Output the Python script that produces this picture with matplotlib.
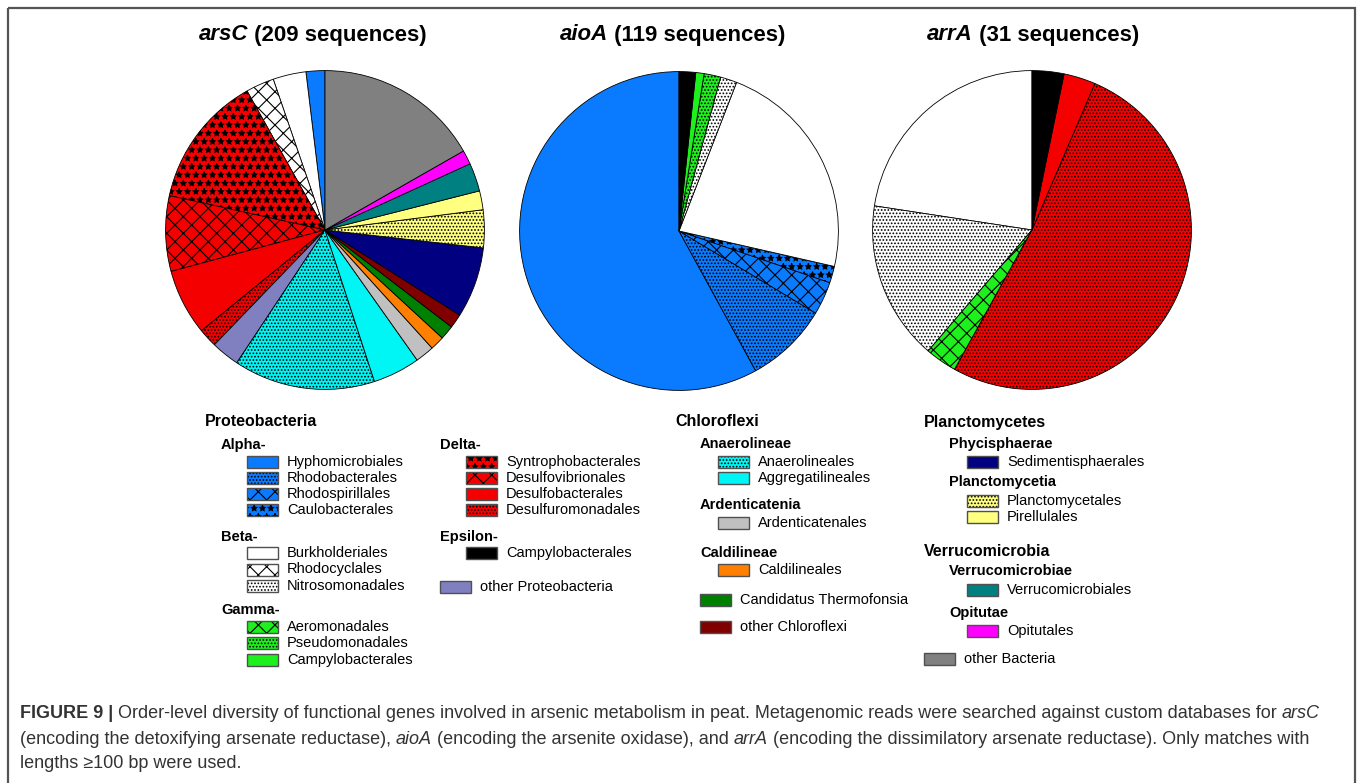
import matplotlib
matplotlib.use('Agg')
import matplotlib.pyplot as plt
from matplotlib.patches import Rectangle

plt.rcParams['font.family'] = ['Liberation Sans', 'DejaVu Sans']
plt.rcParams['hatch.linewidth'] = 0.8

# ─── Data (slices listed counter-clockwise from 12 o'clock) ──────────────
arsC_orders = ['Hyphomicrobiales', 'Burkholderiales', 'Rhodocyclales',
               'Syntrophobacterales', 'Desulfovibrionales', 'Desulfobacterales',
               'Desulfuromonadales', 'other Proteobacteria', 'Anaerolineales',
               'Aggregatilineales', 'Ardenticatenales', 'Caldilineales',
               'Candidatus Thermofonsia', 'other Chloroflexi', 'Sedimentisphaerales',
               'Planctomycetales', 'Pirellulales', 'Verrucomicrobiales',
               'Opitutales', 'other Bacteria']
arsC_counts = [4, 7, 6, 28, 16, 14, 4, 6, 30, 10, 4, 3, 3, 3, 15, 8, 4, 6, 3, 35]

aioA_orders = ['Hyphomicrobiales', 'Rhodobacterales', 'Rhodospirillales',
               'Caulobacterales', 'Burkholderiales', 'Nitrosomonadales',
               'Pseudomonadales', 'Campylobacterales (Gamma)',
               'Campylobacterales (Epsilon)']
aioA_counts = [69, 10, 4, 2, 27, 2, 2, 1, 2]

arrA_orders = ['Burkholderiales', 'Nitrosomonadales', 'Aeromonadales',
               'Desulfuromonadales', 'Desulfobacterales',
               'Campylobacterales (Epsilon)']
arrA_counts = [7, 5, 1, 16, 1, 1]

genes = ['arsC', 'aioA', 'arrA']
totals = [209, 119, 31]

# ─── Styles: face colour + hatch ────────────────────────────────────────
BLUE, RED, GREEN = '#0A7BFF', '#F50000', '#1EF01E'
DOTS, CROSS, DIAM = '.....', 'xx', '**'
STYLE = {
    'Hyphomicrobiales': (BLUE, ''),
    'Rhodobacterales': (BLUE, DOTS),
    'Rhodospirillales': (BLUE, CROSS),
    'Caulobacterales': (BLUE, DIAM),
    'Burkholderiales': ('white', ''),
    'Rhodocyclales': ('white', CROSS),
    'Nitrosomonadales': ('white', DOTS),
    'Aeromonadales': (GREEN, CROSS),
    'Pseudomonadales': (GREEN, DOTS),
    'Campylobacterales (Gamma)': (GREEN, ''),
    'Syntrophobacterales': (RED, DIAM),
    'Desulfovibrionales': (RED, CROSS),
    'Desulfobacterales': (RED, ''),
    'Desulfuromonadales': (RED, DOTS),
    'Campylobacterales (Epsilon)': ('black', ''),
    'other Proteobacteria': ('#8080C0', ''),
    'Anaerolineales': ('#00F5F5', DOTS),
    'Aggregatilineales': ('#00F5F5', ''),
    'Ardenticatenales': ('#C0C0C0', ''),
    'Caldilineales': ('#FF8000', ''),
    'Candidatus Thermofonsia': ('#008000', ''),
    'other Chloroflexi': ('#800000', ''),
    'Sedimentisphaerales': ('#000080', ''),
    'Planctomycetales': ('#FFFF80', DOTS),
    'Pirellulales': ('#FFFF80', ''),
    'Verrucomicrobiales': ('#008080', ''),
    'Opitutales': ('#FF00FF', ''),
    'other Bacteria': ('#808080', ''),
}

W, H = 1358, 783
fig = plt.figure(figsize=(W / 100, H / 100), dpi=100, facecolor='white')

# overlay in pixel coordinates for frame, titles, legend, caption
ov = fig.add_axes([0, 0, 1, 1])
ov.set_xlim(0, W)
ov.set_ylim(H, 0)
ov.axis('off')

ov.add_patch(Rectangle((8, 8), 1347, 800, facecolor='none',
                       edgecolor='#555555', lw=1.6, clip_on=False))

renderer = fig.canvas.get_renderer()


def text_width(s, **kw):
    t1 = ov.text(0, 0, '|' + s + '|', **kw)
    t2 = ov.text(0, 0, '||', **kw)
    w = t1.get_window_extent(renderer).width - t2.get_window_extent(renderer).width
    t1.remove()
    t2.remove()
    return w


def put_runs(x, y, runs, size, color='black', center=False):
    widths = [text_width(s, fontsize=size, fontweight=wt, fontstyle=st)
              for s, wt, st in runs]
    if center:
        x -= sum(widths) / 2
    for (s, wt, st), w in zip(runs, widths):
        ov.text(x, y, s, fontsize=size, fontweight=wt, fontstyle=st,
                color=color, ha='left', va='center')
        x += w


# ─── Pies ───────────────────────────────────────────────────────────────
centers = [(325, 230), (679, 231), (1032, 230)]
R = 161
pie_data = [(arsC_orders, arsC_counts), (aioA_orders, aioA_counts),
            (arrA_orders, arrA_counts)]

for (cx, cy), (orders, counts) in zip(centers, pie_data):
    ax = fig.add_axes([(cx - R) / W, 1 - (cy + R) / H, 2 * R / W, 2 * R / H])
    ax.pie(counts,
           colors=[STYLE[o][0] for o in orders],
           hatch=[STYLE[o][1] for o in orders],
           startangle=90, counterclock=True,
           wedgeprops=dict(edgecolor='black', linewidth=0.6))
    ax.set_xlim(-1.01, 1.01)
    ax.set_ylim(-1.01, 1.01)
    ax.axis('off')

title_x = [313, 673, 1033]
for gene, n, tx in zip(genes, totals, title_x):
    put_runs(tx, 35, [(gene, 'bold', 'italic'),
                      (f' ({n} sequences)', 'bold', 'normal')],
             16, center=True)

# ─── Legend ─────────────────────────────────────────────────────────────
def head(x, y, s, size=11.5):
    ov.text(x, y, s, fontsize=size, fontweight='bold', ha='left', va='center')


def item(x, y, key, label=None, bw=31, bh=12):
    face, hatch = STYLE[key]
    ov.add_patch(Rectangle((x, y - bh / 2), bw, bh, facecolor=face,
                           hatch=hatch, edgecolor='black', lw=0))
    ov.add_patch(Rectangle((x, y - bh / 2), bw, bh, facecolor='none',
                           edgecolor='#505050', lw=1.0))
    ov.text(x + bw + 9, y, label or key, fontsize=10.5, ha='left', va='center')


head(205, 422, 'Proteobacteria')
head(221, 445, 'Alpha-', 10.5)
for i, k in enumerate(['Hyphomicrobiales', 'Rhodobacterales',
                       'Rhodospirillales', 'Caulobacterales']):
    item(247, 462 + 16 * i, k)
head(221, 537, 'Beta-', 10.5)
for i, k in enumerate(['Burkholderiales', 'Rhodocyclales', 'Nitrosomonadales']):
    item(247, 553 + 16.5 * i, k)
head(221, 610, 'Gamma-', 10.5)
for i, k in enumerate(['Aeromonadales', 'Pseudomonadales',
                       'Campylobacterales (Gamma)']):
    item(247, 627 + 16.3 * i, k, k.split(' (')[0])

head(440, 445, 'Delta-', 10.5)
for i, k in enumerate(['Syntrophobacterales', 'Desulfovibrionales',
                       'Desulfobacterales', 'Desulfuromonadales']):
    item(466, 462 + 16 * i, k)
head(440, 537, 'Epsilon-', 10.5)
item(466, 553, 'Campylobacterales (Epsilon)', 'Campylobacterales')
item(440, 587, 'other Proteobacteria')

head(675, 422, 'Chloroflexi')
head(700, 444, 'Anaerolineae', 10.5)
item(718, 462, 'Anaerolineales', bw=31)
item(718, 478, 'Aggregatilineales', bw=31)
head(700, 505, 'Ardenticatenia', 10.5)
item(718, 523, 'Ardenticatenales')
head(700, 553, 'Caldilineae', 10.5)
item(718, 570, 'Caldilineales')
item(700, 600, 'Candidatus Thermofonsia')
item(700, 627, 'other Chloroflexi')

head(924, 422, 'Planctomycetes')
head(949, 444, 'Phycisphaerae', 10.5)
item(967, 462, 'Sedimentisphaerales')
head(949, 482, 'Planctomycetia', 10.5)
item(967, 501, 'Planctomycetales')
item(967, 517, 'Pirellulales')
head(924, 552, 'Verrucomicrobia')
head(949, 571, 'Verrucomicrobiae', 10.5)
item(967, 590, 'Verrucomicrobiales')
head(949, 613, 'Opitutae', 10.5)
item(967, 631, 'Opitutales')
item(924, 659, 'other Bacteria')

# ─── Caption ────────────────────────────────────────────────────────────
cap_size = 13
cap_color = '#333333'
put_runs(20, 714, [
    ('FIGURE 9 | ', 'bold', 'normal'),
    ('Order-level diversity of functional genes involved in arsenic metabolism '
     'in peat. Metagenomic reads were searched against custom databases for ',
     'normal', 'normal'),
    ('arsC', 'normal', 'italic')], cap_size, cap_color)
put_runs(20, 739, [
    ('(encoding the detoxifying arsenate reductase), ', 'normal', 'normal'),
    ('aioA', 'normal', 'italic'),
    (' (encoding the arsenite oxidase), and ', 'normal', 'normal'),
    ('arrA', 'normal', 'italic'),
    (' (encoding the dissimilatory arsenate reductase). Only matches with',
     'normal', 'normal')], cap_size, cap_color)
put_runs(20, 764, [('lengths \u2265100 bp were used.', 'normal', 'normal')],
         cap_size, cap_color)

fig.savefig('out.png', dpi=100, facecolor='white')
plt.close()
